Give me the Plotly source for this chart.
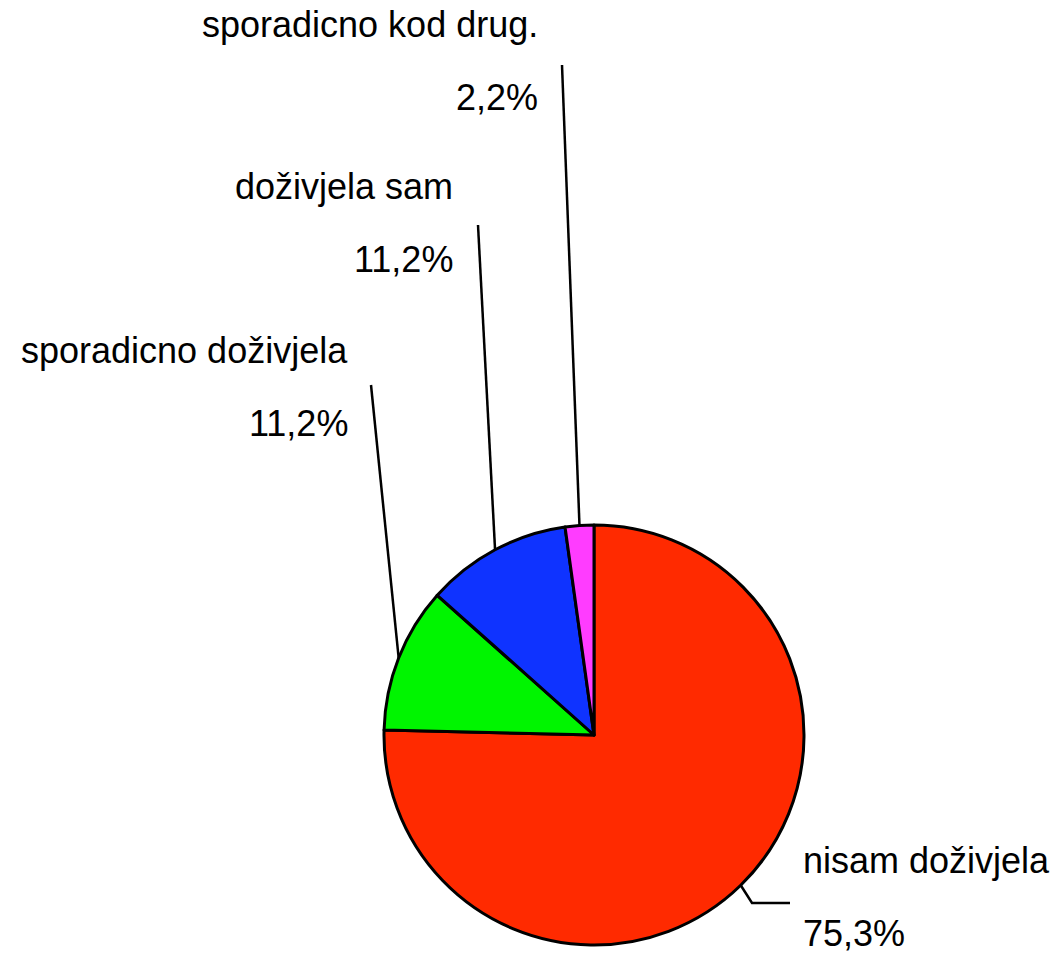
import math
import plotly.graph_objects as go

labels = ["nisam doživjela", "sporadicno doživjela", "doživjela sam", "sporadicno kod drug."]
values = [75.3, 11.2, 11.2, 2.2]
value_texts = ["75,3%", "11,2%", "11,2%", "2,2%"]
colors = ["#FF2A00", "#00F500", "#0F33FF", "#FF3CFF"]

W, H = 1054, 955
CX, CY, R = 594, 735, 210  # pie centre / radius in page pixels (layout)

def px(x):
    return x / W

def py(y):
    return (H - y) / H

fig = go.Figure(go.Pie(
    labels=labels, values=values, sort=False, direction="clockwise", rotation=0,
    marker=dict(colors=colors, line=dict(color="black", width=3)),
    textinfo="none", hoverinfo="label+percent", showlegend=False,
    domain=dict(x=[px(CX - R), px(CX + R)], y=[py(CY + R), py(CY - R)]),
))

# label anchor layout: (x, y of name, y of value, xanchor, leader end x, leader end y)
label_layout = [
    (801, 860, 933, "left", None, None),
    (350, 350, 423, "right", 371, 385),
    (455, 186, 260, "right", 478, 225),
    (540, 25, 98, "right", 562, 65),
]

font = dict(family="Liberation Sans, Arial, sans-serif", size=36, color="black")
annotations = []
shapes = []
total = sum(values)
cum = 0.0
for lab, val, vt, lay in zip(labels, values, value_texts, label_layout):
    mid = (cum + val / 2) / total * 2 * math.pi
    cum += val
    sx = CX + R * math.sin(mid)
    sy = CY - R * math.cos(mid)
    x, yn, yv, anchor, ex, ey = lay
    annotations.append(dict(x=px(x), y=py(yn), xref="paper", yref="paper", text=lab,
                            showarrow=False, xanchor=anchor, yanchor="middle", font=font))
    annotations.append(dict(x=px(x), y=py(yv), xref="paper", yref="paper", text=vt,
                            showarrow=False, xanchor=anchor, yanchor="middle", font=font))
    if ex is None:
        path = f"M {px(sx)} {py(sy)} L {px(752)} {py(903)} L {px(790)} {py(903)}"
        shapes.append(dict(type="path", xref="paper", yref="paper", path=path,
                           line=dict(color="black", width=2.5)))
    else:
        shapes.append(dict(type="line", xref="paper", yref="paper",
                           x0=px(sx), y0=py(sy), x1=px(ex), y1=py(ey),
                           line=dict(color="black", width=2.5)))

fig.update_layout(
    width=W, height=H, margin=dict(l=0, r=0, t=0, b=0),
    paper_bgcolor="white", plot_bgcolor="white",
    annotations=annotations, shapes=shapes,
)
fig.write_html("out.html", config={"displayModeBar": False},
               post_script="document.body.style.margin='0';document.body.style.overflow='hidden';")
